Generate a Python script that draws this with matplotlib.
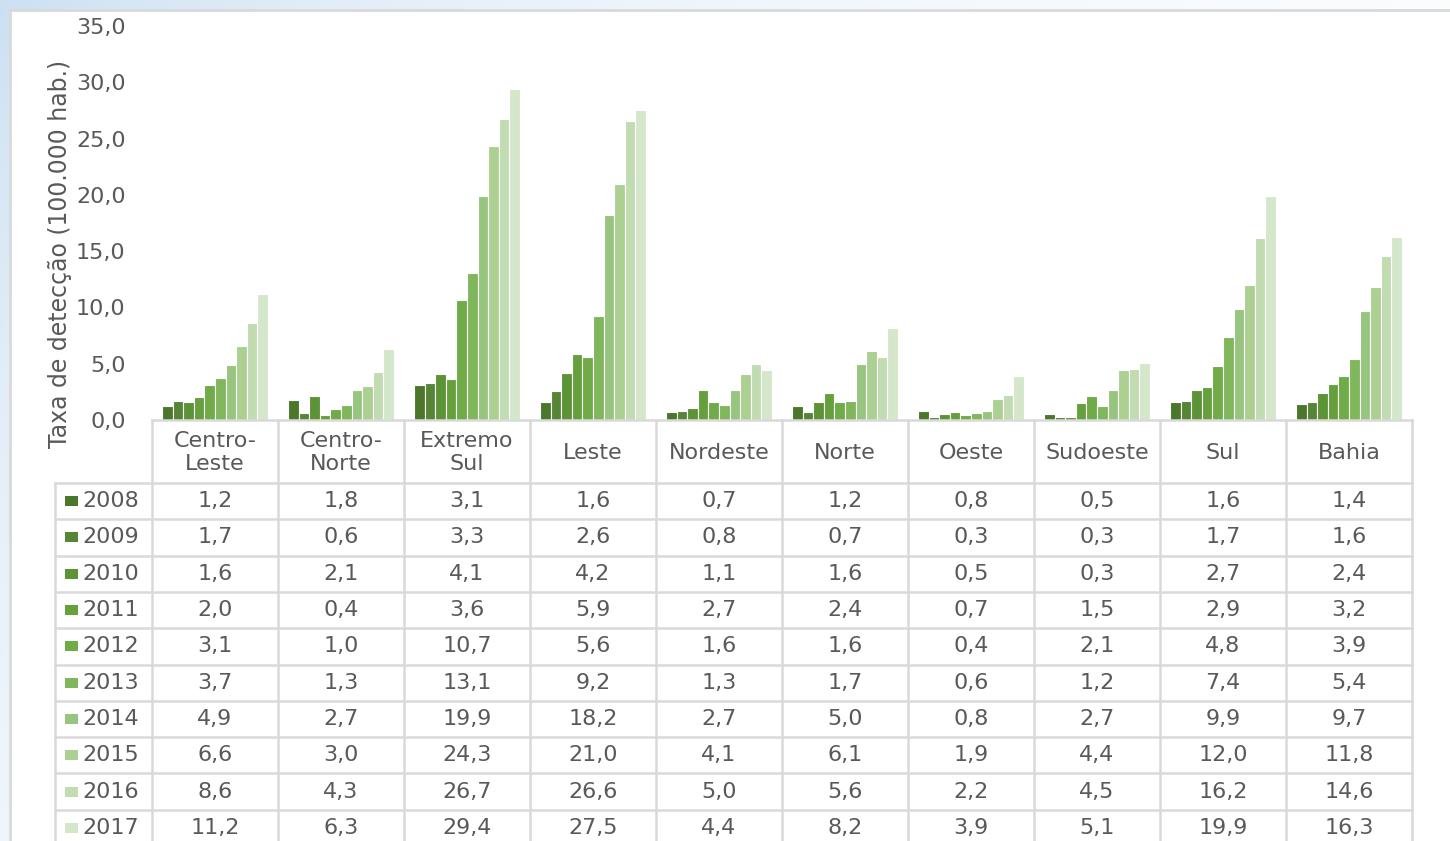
import matplotlib
matplotlib.use("Agg")
import matplotlib.pyplot as plt
import numpy as np
from matplotlib.patches import Rectangle

regions = ["Centro-\nLeste", "Centro-\nNorte", "Extremo\nSul", "Leste", "Nordeste",
           "Norte", "Oeste", "Sudoeste", "Sul", "Bahia"]
years = ["2008", "2009", "2010", "2011", "2012", "2013", "2014", "2015", "2016", "2017"]

r2008 = [1.2, 1.8, 3.1, 1.6, 0.7, 1.2, 0.8, 0.5, 1.6, 1.4]
r2009 = [1.7, 0.6, 3.3, 2.6, 0.8, 0.7, 0.3, 0.3, 1.7, 1.6]
r2010 = [1.6, 2.1, 4.1, 4.2, 1.1, 1.6, 0.5, 0.3, 2.7, 2.4]
r2011 = [2.0, 0.4, 3.6, 5.9, 2.7, 2.4, 0.7, 1.5, 2.9, 3.2]
r2012 = [3.1, 1.0, 10.7, 5.6, 1.6, 1.6, 0.4, 2.1, 4.8, 3.9]
r2013 = [3.7, 1.3, 13.1, 9.2, 1.3, 1.7, 0.6, 1.2, 7.4, 5.4]
r2014 = [4.9, 2.7, 19.9, 18.2, 2.7, 5.0, 0.8, 2.7, 9.9, 9.7]
r2015 = [6.6, 3.0, 24.3, 21.0, 4.1, 6.1, 1.9, 4.4, 12.0, 11.8]
r2016 = [8.6, 4.3, 26.7, 26.6, 5.0, 5.6, 2.2, 4.5, 16.2, 14.6]
r2017 = [11.2, 6.3, 29.4, 27.5, 4.4, 8.2, 3.9, 5.1, 19.9, 16.3]
series = [r2008, r2009, r2010, r2011, r2012, r2013, r2014, r2015, r2016, r2017]

colors = ["#4b772b", "#558535", "#5d9337", "#65a03d", "#6fab46", "#80b75d",
          "#97c47e", "#abd091", "#c2dcb2", "#d5e7cb"]

TXT = "#595959"
GRID = "#d9d9d9"
FS = 16

W, H = 1450, 841
fig = plt.figure(figsize=(W / 100, H / 100), dpi=100)

# decorative background (light blue swoosh behind the frame)
bg = fig.add_axes([0, 0, 1, 1], zorder=-2)
xx, yy = np.meshgrid(np.linspace(0, W, 300), np.linspace(0, H, 200))
k = np.exp(-(xx / 600.0 + yy / 700.0))
img = np.ones((200, 300, 3))
img[..., 0] -= 0.20 * k
img[..., 1] -= 0.12 * k
img[..., 2] -= 0.05 * k
bg.imshow(img, extent=(0, W, H, 0), aspect="auto")
bg.add_patch(Rectangle((10, 10), W + 20, H + 20, facecolor="white", edgecolor=GRID, lw=2))
bg.set_xlim(0, W)
bg.set_ylim(H, 0)
bg.axis("off")

# bar chart
x0, x1, ytop, ybase = 152, 1412, 26, 420
ax = fig.add_axes([x0 / W, 1 - ybase / H, (x1 - x0) / W, (ybase - ytop) / H])
step = 0.084
centers = np.arange(len(regions)) + 0.5
for j, (vals, c) in enumerate(zip(series, colors)):
    ax.bar(centers + (j - 4.5) * step, vals, width=step, color=c,
           edgecolor="white", linewidth=0.8)
ax.set_xlim(0, len(regions))
ax.set_ylim(0, 35)
ticks = np.arange(0, 36, 5)
ax.set_yticks(ticks)
ax.set_yticklabels([f"{t:.1f}".replace(".", ",") for t in ticks], color=TXT, fontsize=FS)
ax.tick_params(axis="y", length=0, pad=19)
ax.set_xticks([])
for s in ax.spines.values():
    s.set_visible(False)
fig.text(60 / W, 1 - 254 / H, "Taxa de detecção (100.000 hab.)", rotation=90,
         ha="center", va="center", color=TXT, fontsize=17)

# data table under the bars
ybot = 860
tab = fig.add_axes([x0 / W, 1 - ybot / H, (x1 - x0) / W, (ybot - ybase) / H])
tab.set_xlim(0, len(regions))
tab.set_ylim(ybot, ybase)
tab.axis("off")
head_bot = 483
row_h = 36.3
lab_left = (55 - x0) / 126.0
lw = 1.8

tab.plot([0, len(regions)], [ybase, ybase], color=GRID, lw=lw, clip_on=False)
for i in range(len(regions) + 1):
    tab.plot([i, i], [ybase, ybot], color=GRID, lw=lw, clip_on=False)
tab.plot([lab_left, lab_left], [head_bot, ybot], color=GRID, lw=lw, clip_on=False)
for r in range(len(years) + 1):
    yl = head_bot + r * row_h
    tab.plot([lab_left, len(regions)], [yl, yl], color=GRID, lw=lw, clip_on=False)

for i, name in enumerate(regions):
    tab.text(i + 0.5, (ybase + head_bot) / 2 + 1, name, ha="center", va="center",
             color=TXT, fontsize=FS, linespacing=1.15)

for r, (yr, vals, c) in enumerate(zip(years, series, colors)):
    yc = head_bot + (r + 0.5) * row_h
    tab.add_patch(Rectangle(((65 - x0) / 126.0, yc - 5), 13 / 126.0, 10,
                            facecolor=c, edgecolor="none", clip_on=False))
    tab.text((82 - x0) / 126.0, yc, yr, ha="left", va="center", color=TXT,
             fontsize=FS, clip_on=False)
    for i, v in enumerate(vals):
        tab.text(i + 0.5, yc, f"{v:.1f}".replace(".", ","), ha="center",
                 va="center", color=TXT, fontsize=FS)

fig.savefig("out.png", dpi=100)
